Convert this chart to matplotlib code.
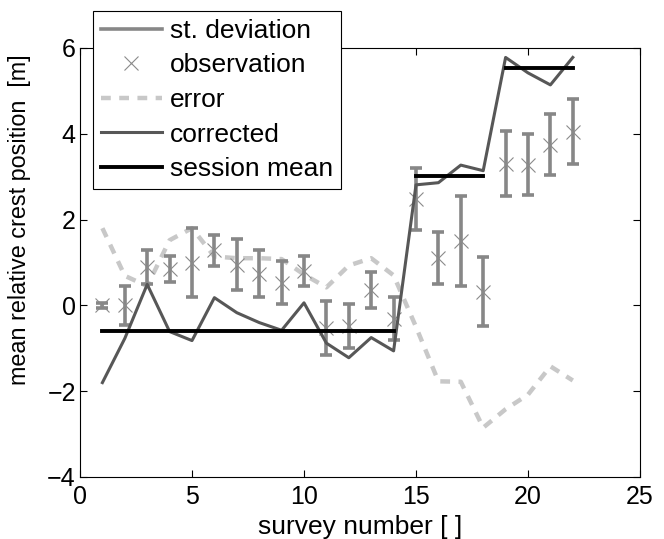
import matplotlib
matplotlib.use("Agg")
import matplotlib.pyplot as plt
from matplotlib.lines import Line2D
import numpy as np

plt.rcParams['font.family'] = ['Liberation Sans', 'DejaVu Sans']

survey = list(range(1, 23))
observation = [0.00, 0.00, 0.89, 0.85, 1.00, 1.28, 0.95, 0.74, 0.53, 0.81, -0.52,
               -0.48, 0.36, -0.31, 2.48, 1.10, 1.50, 0.32, 3.30, 3.28, 3.74, 4.05]
st_deviation = [0.05, 0.45, 0.40, 0.30, 0.80, 0.35, 0.59, 0.54, 0.50, 0.35, 0.63,
                0.52, 0.43, 0.50, 0.72, 0.60, 1.05, 0.80, 0.76, 0.71, 0.71, 0.75]
error = [1.80, 0.69, 0.45, 1.52, 1.80, 1.14, 1.10, 1.10, 1.08, 0.72, 0.42,
         0.93, 1.10, 0.70, -0.50, -1.77, -1.78, -2.85, -2.42, -2.08, -1.42, -1.75]
corrected = [-1.80, -0.77, 0.49, -0.61, -0.82, 0.18, -0.17, -0.40, -0.58, 0.06, -0.88,
             -1.22, -0.75, -1.06, 2.81, 2.86, 3.27, 3.14, 5.78, 5.42, 5.14, 5.78]
session_start = [1, 15, 19]
session_end = [14, 18, 22]
session_mean = [-0.60, 3.02, 5.53]

c_std = '#878787'
c_obs = '#8a8a8a'
c_err = '#c8c8c8'
c_cor = '#575757'

fig = plt.figure(figsize=(6.64, 5.39), dpi=100)
ax = fig.add_axes([80/664, 1-477/539, 560/664, 429/539])

ax.errorbar(survey, observation, yerr=st_deviation, fmt='none', ecolor=c_std,
            elinewidth=2.6, capsize=4.5, capthick=2.6, zorder=2)
ax.plot(survey, observation, linestyle='none', marker='x', markersize=10,
        markeredgewidth=0.8, color=c_obs, zorder=3)
ax.plot(survey, error, color=c_err, linewidth=3.2, dashes=(2.2, 1.9), zorder=1)
ax.plot(survey, corrected, color=c_cor, linewidth=2.2, zorder=4)
for s, e, m in zip(session_start, session_end, session_mean):
    ax.plot([s, e], [m, m], color='black', linewidth=2.8, zorder=5)

ax.set_xlim(0, 25)
ax.set_ylim(-4, 6)
ax.set_xticks([0, 5, 10, 15, 20, 25])
ax.set_yticks([-4, -2, 0, 2, 4, 6])
ax.tick_params(direction='in', top=True, right=True, labelsize=18, length=5, width=0.8, pad=3)
ax.tick_params(axis='x', pad=6)
for sp in ax.spines.values():
    sp.set_linewidth(0.8)
ax.set_xlabel('survey number [ ]', fontsize=19, labelpad=4)
ax.set_ylabel('mean relative crest position  [m]', fontsize=16.8, labelpad=4)
ax.yaxis.set_label_coords(-0.088, 0.6)

handles = [
    Line2D([], [], color=c_std, linewidth=2.6),
    Line2D([], [], color=c_obs, linestyle='none', marker='x', markersize=10, markeredgewidth=0.8),
    Line2D([], [], color=c_err, linewidth=3.2, dashes=(2.2, 1.9)),
    Line2D([], [], color=c_cor, linewidth=2.2),
    Line2D([], [], color='black', linewidth=2.8),
]
labels = ['st. deviation', 'observation', 'error', 'corrected', 'session mean']
leg = fig.legend(handles, labels, loc='upper left', bbox_to_anchor=(93/664, 1-11/539),
                 fontsize=19, frameon=True, fancybox=False, edgecolor='black',
                 framealpha=1, handlelength=2.3, handletextpad=0.3, labelspacing=0.4,
                 borderpad=0.3, borderaxespad=0)
leg.get_frame().set_linewidth(0.8)

fig.savefig('out.png', dpi=100)
